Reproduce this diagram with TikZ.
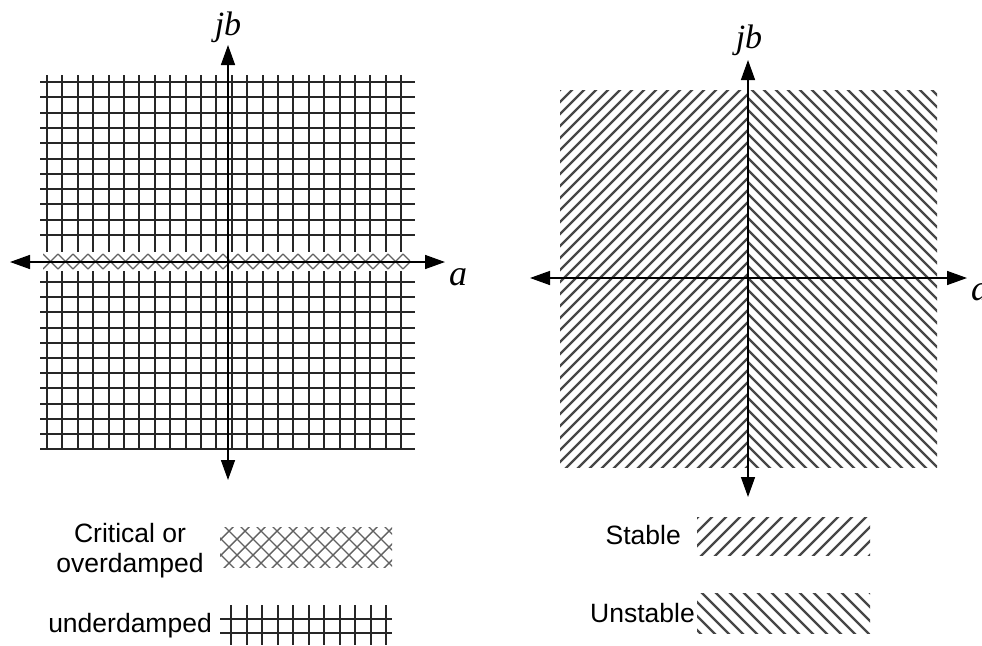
\documentclass[tikz,border=0pt]{standalone}
\usepackage{fontspec}
\setmainfont{Liberation Serif}
\setsansfont{Liberation Sans}
\usetikzlibrary{arrows.meta}
\begin{document}
\begin{tikzpicture}[x=1pt,y=-1pt,
  axisln/.style={line width=1.5pt, {Triangle[length=20pt,width=14pt]}-{Triangle[length=20pt,width=14pt]}},
  gridln/.style={line width=2pt, black!85},
  hatchln/.style={line width=2.2pt, black!72},
  crossln/.style={line width=1.4pt, black!62},
  lbl/.style={font=\fontsize{34}{40}\selectfont\itshape, anchor=base, inner sep=0pt},
  biglbl/.style={font=\fontsize{36}{40}\selectfont\itshape, anchor=base west, inner sep=0pt},
  leg/.style={font=\sffamily\fontsize{26.5}{30}\selectfont, inner sep=0pt}]
\useasboundingbox (0,0) rectangle (982,645);

% ---------- left panel: underdamped grid ----------
\foreach \i in {0,...,23} {
  \draw[gridln] ({47+15.4*\i},75) -- ({47+15.4*\i},252);
  \draw[gridln] ({47+15.4*\i},271) -- ({47+15.4*\i},449);
}
\foreach \j in {0,...,10} \draw[gridln] (40,{82+15.3*\j}) -- (415,{82+15.3*\j});
\foreach \j in {0,...,11} \draw[gridln] (40,{282+15.2*\j}) -- (415,{282+15.2*\j});

% critical / overdamped strip
\begin{scope}
  \clip (43,253.5) rectangle (410,269.5);
  \foreach \k in {0,...,26} {
    \draw[crossln] ({28+15*\k},269) -- ++(15,-15);
    \draw[crossln] ({28+15*\k},254) -- ++(15,15);
  }
\end{scope}

\coordinate (LW) at (10,262);
\coordinate (LE) at (445,262);
\coordinate (LN) at (228,45);
\coordinate (LS) at (228,480);
\draw[axisln] (LW) -- (LE);
\draw[axisln] (LS) -- (LN);
\node[lbl] (jbL) at (228,35) {jb};
\node[biglbl] (aL) at (449,285) {a};

% ---------- right panel: stable / unstable ----------
\begin{scope}
  \clip (560,90) rectangle (748,467);
  \foreach \k in {0,...,48} \draw[hatchln] ({180+12*\k},470) -- ++(385,-385);
\end{scope}
\begin{scope}
  \clip (748,90) rectangle (937,467);
  \foreach \k in {0,...,48} \draw[hatchln] ({364+12*\k},86) -- ++(385,385);
\end{scope}

\coordinate (RW) at (530,278);
\coordinate (RE) at (967,278);
\coordinate (RN) at (748,60);
\coordinate (RS) at (748,497);
\draw[axisln] (RW) -- (RE);
\draw[axisln] (RS) -- (RN);
\node[lbl] (jbR) at (749,48) {jb};
\node[biglbl] (aR) at (971,300) {a};

% ---------- left legend ----------
\node[leg, align=center, anchor=base] (crit) at (130,572) {Critical or\\overdamped};
\begin{scope}
  \clip (220,527) rectangle (392,567);
  \foreach \k in {0,...,14} {
    \draw[crossln] ({172+16*\k},572) -- ++(50,-50);
    \draw[crossln] ({172+16*\k},522) -- ++(50,50);
  }
\end{scope}
\node[leg, anchor=base east] (under) at (212,632) {underdamped};
\foreach \i in {0,...,10} \draw[gridln] ({231+15.5*\i},605) -- ({231+15.5*\i},645);
\draw[gridln] (220,619) -- (392,619);
\draw[gridln] (220,633) -- (392,633);

% ---------- right legend ----------
\node[leg, anchor=base east] (stab) at (681,544) {Stable};
\begin{scope}
  \clip (697,517) rectangle (870,555);
  \foreach \k in {0,...,16} \draw[hatchln] ({657+14*\k},558) -- ++(44,-44);
\end{scope}
\node[leg, anchor=base east] (unst) at (695,622) {Unstable};
\begin{scope}
  \clip (697,593) rectangle (870,633);
  \foreach \k in {0,...,16} \draw[hatchln] ({657+14*\k},590) -- ++(46,46);
\end{scope}
\end{tikzpicture}
\end{document}
